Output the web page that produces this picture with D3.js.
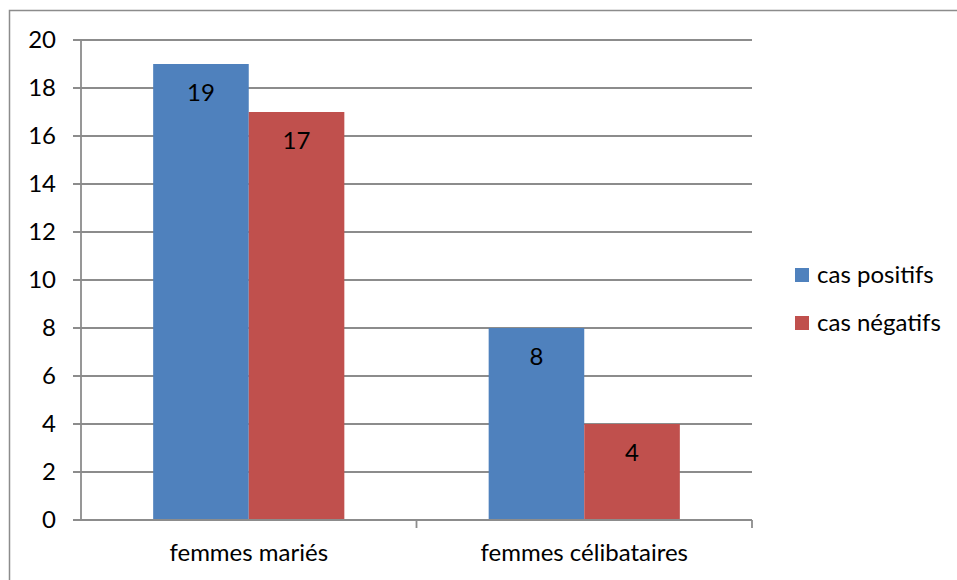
<!DOCTYPE html>
<html><head><meta charset="utf-8">
<script src="https://cdn.jsdelivr.net/npm/d3@7"></script>
<style>body{margin:0;background:#fff}svg{display:block}text{font-family:Lato,"Open Sans",sans-serif;fill:#000}</style>
</head><body><svg id="c" width="957" height="580"></svg>
<script>
const categories = ["femmes mariés", "femmes célibataires"];
const seriesNames = ["cas positifs", "cas négatifs"];
const positifs = [19, 8];
const negatifs = [17, 4];
const yTicks = [0, 2, 4, 6, 8, 10, 12, 14, 16, 18, 20];
const colors = ["#4F81BD", "#C0504D"];
const FS = 24;

const svg = d3.select("#c");
svg.append("rect").attr("x", 9.5).attr("y", 10.5).attr("width", 960).attr("height", 600)
  .attr("fill", "none").attr("stroke", "#8c8c8c").attr("stroke-width", 1.5);

const L = 81, R = 752, T = 40, B = 520;
const y = d3.scaleLinear().domain([0, 20]).range([B, T]);
const x0 = d3.scaleBand().domain(categories).range([L, R]).paddingInner(0).paddingOuter(0);
const x1 = d3.scaleBand().domain(seriesNames).range([0, x0.bandwidth()]).paddingInner(0).paddingOuter(0.755);

svg.append("g").selectAll("line").data(yTicks).join("line")
  .attr("x1", L - 8).attr("x2", R).attr("y1", d => y(d)).attr("y2", d => y(d))
  .attr("stroke", "#8c8c8c").attr("stroke-width", 1.8);

svg.append("line").attr("x1", L).attr("x2", L).attr("y1", T).attr("y2", B + 1)
  .attr("stroke", "#8c8c8c").attr("stroke-width", 1.8);
svg.append("g").selectAll("text").data(yTicks).join("text")
  .attr("x", 56).attr("y", d => y(d)).attr("dy", "0.35em").attr("text-anchor", "end")
  .attr("font-size", FS).text(d => d);

const catEdges = [L + x0.bandwidth(), R];
svg.append("g").selectAll("line").data(catEdges).join("line")
  .attr("x1", d => d).attr("x2", d => d).attr("y1", B).attr("y2", B + 8)
  .attr("stroke", "#8c8c8c").attr("stroke-width", 1.8);

const data = categories.map((c, i) => ({cat: c, vals: [positifs[i], negatifs[i]]}));
const g = svg.append("g").selectAll("g").data(data).join("g")
  .attr("transform", d => `translate(${x0(d.cat)},0)`);
g.selectAll("rect").data(d => d.vals.map((v, j) => ({v, s: seriesNames[j], j}))).join("rect")
  .attr("x", d => x1(d.s)).attr("width", x1.bandwidth())
  .attr("y", d => y(d.v)).attr("height", d => B - y(d.v))
  .attr("fill", d => colors[d.j]);
g.selectAll("text.val").data(d => d.vals.map((v, j) => ({v, s: seriesNames[j]}))).join("text")
  .attr("class", "val").attr("x", d => x1(d.s) + x1.bandwidth() / 2).attr("y", d => y(d.v) + 29)
  .attr("dy", "0.35em").attr("text-anchor", "middle").attr("font-size", FS).text(d => d.v);

svg.append("line").attr("x1", L - 8).attr("x2", R).attr("y1", B).attr("y2", B)
  .attr("stroke", "#8c8c8c").attr("stroke-width", 1.8);

svg.append("g").selectAll("text").data(categories).join("text")
  .attr("x", d => x0(d) + x0.bandwidth() / 2).attr("y", 553).attr("dy", "0.35em").attr("text-anchor", "middle")
  .attr("font-size", FS).text(d => d);

const lg = svg.append("g").selectAll("g").data(seriesNames).join("g")
  .attr("transform", (d, i) => `translate(795,${268 + i * 48})`);
lg.append("rect").attr("width", 14).attr("height", 14).attr("fill", (d, i) => colors[i]);
lg.append("text").attr("x", 22).attr("y", 7).attr("dy", "0.35em").attr("font-size", FS).text(d => d);
</script></body></html>
